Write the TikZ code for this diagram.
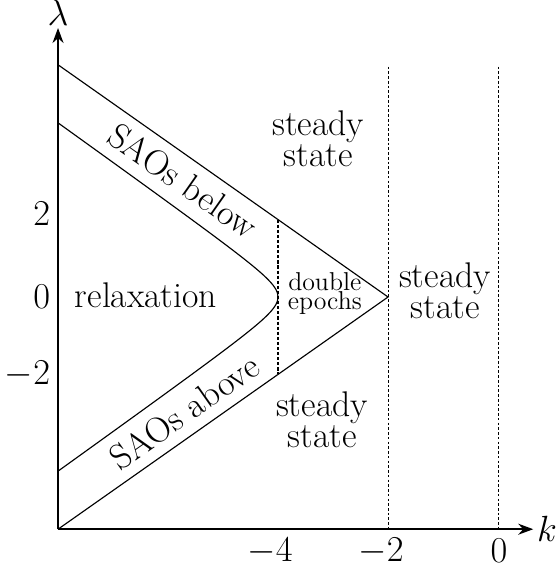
\documentclass[tikz,border=0pt]{standalone}
\usepackage{amsmath, amssymb}
\usepackage{tikz}
\usetikzlibrary{positioning,arrows.meta}
\tikzset{
  axisarrow/.style={-{Stealth[length=3mm, width=2.2mm]}, line width=1.1pt},
  phaseline/.style={line width=0.65pt},
  guideline/.style={line width=0.55pt, dash pattern=on 1.5pt off 1.2pt},
  epochline/.style={line width=0.75pt, dash pattern=on 1.8pt off 1.1pt},
  region/.style={font=\fontsize{20.3}{15.9}\selectfont, align=center, inner sep=0pt},
  smallregion/.style={font=\fontsize{14.7}{11.3}\selectfont, align=center, inner sep=0pt},
  ticklabel/.style={font=\fontsize{20.3}{16}\selectfont, inner sep=0pt}
}

\begin{document}
\begin{tikzpicture}[x=1.1cm, y=0.774cm]
      \useasboundingbox (-9.055,-7.028) rectangle (1.055,7.674);
      % corners of the phase diagram
      \coordinate (o) at (-8,-6);
      \coordinate (xtip) at (0.64,-6);
      \coordinate (ytip) at (-8,6.95);
      \coordinate (ub) at (-8,6);
      \coordinate (lb) at (-8,-6);
      \coordinate (apex) at (-2,0);
      \coordinate (eptop) at (-4,2);
      \coordinate (epbot) at (-4,-2);
      \coordinate (m2top) at (-2,5.95);
      \coordinate (m2bot) at (-2,-6);
      \coordinate (z0top) at (0,5.95);
      \coordinate (z0bot) at (0,-6);
      % boundaries
      \draw[guideline] (m2top) -- (m2bot);
      \draw[guideline] (z0top) -- (z0bot);
      \draw[epochline] (eptop) -- (epbot);
      \draw[phaseline] (ub) -- (apex) -- (lb);
      \draw[phaseline] plot[domain=-4.5:4.5, samples=91, smooth]
        ({-3.55-sqrt(0.2025+0.968*\x*\x)}, \x);
      % axes
      \draw[axisarrow] (o) -- (xtip);
      \draw[axisarrow] (o) -- (ytip);
      \node[ticklabel] (klab) at (0.89,-6) {$k$};
      \node[ticklabel] (lamlab) at (-8,7.33) {$\lambda$};
      \node[ticklabel, anchor=east] (ytwo) at (-8.14,2.15) {$2$};
      \node[ticklabel, anchor=east] (yzero) at (-8.14,0) {$0$};
      \node[ticklabel, anchor=east] (ymtwo) at (-8.14,-2) {$-2$};
      \node[ticklabel] (xmfour) at (-4.145,-6.56) {$-4$};
      \node[ticklabel] (xmtwo) at (-2.127,-6.56) {$-2$};
      \node[ticklabel] (xzero) at (0.018,-6.56) {$0$};
      % regions
      \node[region] (relax) at (-6.4,0.05) {relaxation};
      \node[region, rotate=-35] (below) at (-5.727,3.0) {SAOs below};
      \node[region, rotate=35] (above) at (-5.71,-2.97) {SAOs above};
      \node[region] (sstop) at (-3.27,4.09) {steady\\state};
      \node[region] (ssright) at (-0.964,0.165) {steady\\state};
      \node[region] (ssbot) at (-3.2,-3.17) {steady\\state};
      \node[smallregion] (double) at (-3.15,0.09) {double\\epochs};
    \end{tikzpicture}
\end{document}
